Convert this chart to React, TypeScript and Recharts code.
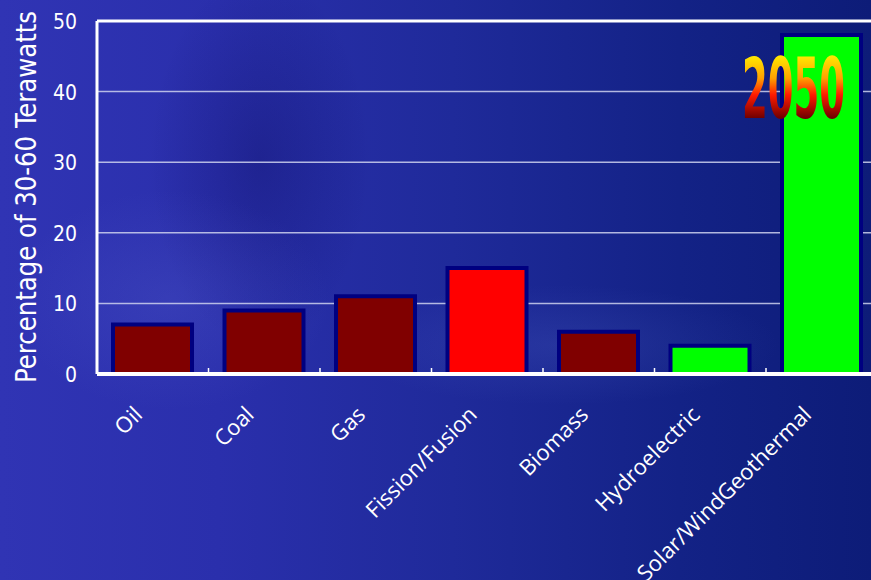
import {
  BarChart,
  Bar,
  XAxis,
  YAxis,
  CartesianGrid,
  ReferenceLine,
  Cell,
} from "recharts";

const categories = [
  "Oil",
  "Coal",
  "Gas",
  "Fission/Fusion",
  "Biomass",
  "Hydroelectric",
  "Solar/WindGeothermal",
];
const shares = [7, 9, 11, 15, 6, 4, 48];
const yTicks = [0, 10, 20, 30, 40, 50];
const barColors = ["#800000", "#800000", "#800000", "#ff0000", "#800000", "#00ff00", "#00ff00"];

const data = categories.map((name, i) => ({ name, value: shares[i] }));

const CHART_W = 890;
const CHART_H = 580;
const PLOT_LEFT = 97;
const PLOT_RIGHT = 877.5;
const BAND = (PLOT_RIGHT - PLOT_LEFT) / categories.length;

const narrow = "'Liberation Sans Narrow', 'DejaVu Sans Condensed', 'Arial Narrow', sans-serif";
const humanist = "'Open Sans', 'Noto Sans', sans-serif";

// eslint-disable-next-line @typescript-eslint/no-explicit-any
function XTick({ x, y, payload, index }: any) {
  return (
    <g>
      {index < categories.length - 1 && (
        <line x1={x + BAND / 2} x2={x + BAND / 2} y1={y} y2={y - 6} stroke="#fff" strokeWidth={1.5} />
      )}
      <text
        transform={`translate(${x - 9},${y + 42}) rotate(-45)`}
        textAnchor="end"
        fill="#fff"
        fontSize={22}
        fontFamily={humanist}
      >
        {payload.value}
      </text>
    </g>
  );
}

// eslint-disable-next-line @typescript-eslint/no-explicit-any
function YTick({ y, payload }: any) {
  return (
    <text x={77} y={y + 8} textAnchor="end" fill="#fff" fontSize={21} fontFamily={narrow}>
      {payload.value}
    </text>
  );
}

function YTitle() {
  return (
    <text
      transform="translate(36,197) rotate(-90)"
      textAnchor="middle"
      fill="#fff"
      fontSize={28}
      fontFamily={narrow}
      textLength={372}
      lengthAdjust="spacingAndGlyphs"
    >
      Percentage of 30-60 Terawatts
    </text>
  );
}

export default function App() {
  return (
    <div
      style={{
        position: "fixed",
        left: 0,
        top: 0,
        width: 871,
        height: 580,
        overflow: "hidden",
        background:
          "radial-gradient(ellipse 160px 110px at 170px 300px, rgba(100,110,215,0.2), transparent)," +
          "radial-gradient(ellipse 110px 190px at 260px 160px, rgba(10,10,90,0.3), transparent)," +
          "radial-gradient(ellipse 220px 60px at 560px 345px, rgba(90,110,210,0.2), transparent)," +
          "linear-gradient(90deg, #3034b4 0%, #2a2fac 25%, #1f2a9a 52%, #132286 78%, #0d1c78 100%)",
      }}
    >
      <BarChart
        width={CHART_W}
        height={CHART_H}
        data={data}
        margin={{ top: 21, right: CHART_W - PLOT_RIGHT, left: 0, bottom: 0 }}
      >
        <CartesianGrid
          vertical={false}
          stroke="#cfd2ef"
          strokeWidth={1.5}
          strokeOpacity={0.85}
        />
        <XAxis
          dataKey="name"
          interval={0}
          tickSize={0}
          tickMargin={0}
          tickLine={false}
          axisLine={{ stroke: "#fff", strokeWidth: 4 }}
          tick={<XTick />}
          height={206}
        />
        <YAxis
          width={PLOT_LEFT}
          domain={[0, 50]}
          ticks={yTicks}
          tickLine={false}
          axisLine={{ stroke: "#fff", strokeWidth: 3 }}
          tick={<YTick />}
          label={{ content: () => <YTitle /> }}
        />
        <ReferenceLine y={50} stroke="#fff" strokeWidth={3} />
        <Bar dataKey="value" barSize={79} stroke="#000080" strokeWidth={4} isAnimationActive={false}>
          {data.map((entry, i) => (
            <Cell key={entry.name} fill={barColors[i]} />
          ))}
        </Bar>
      </BarChart>
      <svg
        width={871}
        height={580}
        style={{ position: "absolute", left: 0, top: 0, pointerEvents: "none" }}
      >
        <defs>
          <linearGradient id="g2050" x1={0} y1={57} x2={0} y2={118} gradientUnits="userSpaceOnUse">
            <stop offset="0" stopColor="#ffe600" />
            <stop offset="0.35" stopColor="#ffa000" />
            <stop offset="0.62" stopColor="#ff1a00" />
            <stop offset="1" stopColor="#700000" />
          </linearGradient>
        </defs>
        <text
          x={742}
          y={118}
          fontSize={84}
          fontWeight="bold"
          fontFamily={narrow}
          fill="url(#g2050)"
          textLength={103}
          lengthAdjust="spacingAndGlyphs"
        >
          2050
        </text>
      </svg>
    </div>
  );
}
